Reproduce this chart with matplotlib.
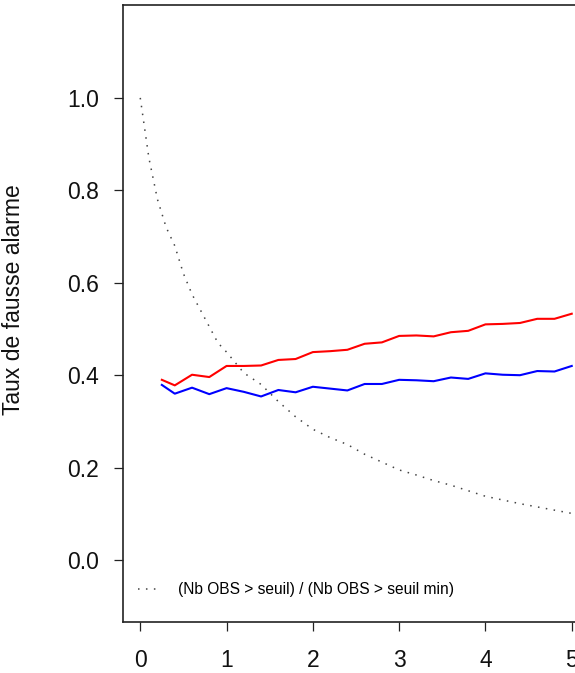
import matplotlib
matplotlib.use('Agg')
import matplotlib.pyplot as plt

plt.rcParams['font.family'] = ['Liberation Sans', 'DejaVu Sans']

# Thresholds and false alarm rates
seuil = [0.25, 0.4, 0.6, 0.8, 1.0, 1.2, 1.4, 1.6, 1.8, 2.0, 2.2, 2.4, 2.6,
         2.8, 3.0, 3.2, 3.4, 3.6, 3.8, 4.0, 4.2, 4.4, 4.6, 4.8, 5.0]
taux_rouge = [0.390, 0.378, 0.401, 0.396, 0.420, 0.420, 0.421, 0.433, 0.435,
              0.450, 0.452, 0.455, 0.468, 0.471, 0.485, 0.486, 0.484, 0.493,
              0.496, 0.510, 0.511, 0.513, 0.522, 0.522, 0.533]
taux_bleu = [0.379, 0.360, 0.373, 0.359, 0.372, 0.364, 0.354, 0.368, 0.363,
             0.375, 0.371, 0.367, 0.381, 0.381, 0.390, 0.389, 0.387, 0.395,
             0.392, 0.404, 0.401, 0.400, 0.409, 0.408, 0.420]

# Ratio (Nb OBS > seuil) / (Nb OBS > seuil min)
seuil_obs = [0.0, 0.1, 0.2, 0.3, 0.4, 0.5, 0.6, 0.7, 0.8, 0.9, 1.0, 1.2, 1.4,
             1.6, 1.8, 2.0, 2.2, 2.4, 2.6, 2.8, 3.0, 3.2, 3.4, 3.6, 3.8, 4.0,
             4.2, 4.4, 4.6, 4.8, 5.0]
ratio_obs = [1.00, 0.87, 0.78, 0.72, 0.68, 0.62, 0.575, 0.54, 0.505, 0.47,
             0.45, 0.405, 0.38, 0.343, 0.31, 0.283, 0.265, 0.25, 0.229, 0.212,
             0.195, 0.184, 0.172, 0.162, 0.150, 0.138, 0.130, 0.122, 0.115,
             0.108, 0.101]

xticks = [0, 1, 2, 3, 4, 5]
yticks = [0.0, 0.2, 0.4, 0.6, 0.8, 1.0]

fig = plt.figure(figsize=(5.75, 6.73), dpi=100)
ax = fig.add_axes([123 / 575, 51 / 673, 466 / 575, 617 / 673])

ax.plot(seuil_obs, ratio_obs, color='#444444', linewidth=1.1,
        linestyle=(0, (1, 4.2)), label='(Nb OBS > seuil) / (Nb OBS > seuil min)')
ax.plot(seuil, taux_rouge, color='#ff0000', linewidth=1.5)
ax.plot(seuil, taux_bleu, color='#0000ff', linewidth=1.5)

ax.set_xlim(-0.2, 5.2)
ax.set_ylim(-0.134, 1.201)
ax.set_xticks(xticks)
ax.set_xticklabels([str(v) for v in xticks])
ax.set_yticks(yticks)
ax.set_yticklabels(['%.1f' % v for v in yticks])

for s in ax.spines.values():
    s.set_linewidth(1.2)
    s.set_color('#222222')

ax.tick_params(axis='both', labelsize=16.5, length=6.5, width=0.9,
               color='#222222', labelcolor='#111111')
ax.tick_params(axis='x', pad=13)
ax.tick_params(axis='y', pad=11)

ax.set_ylabel('Taux de fausse alarme', fontsize=16.5, color='#111111')
ax.yaxis.set_label_coords(-0.21, 0.522)

ax.legend(loc='center left', bbox_to_anchor=(0.032, 0.052), frameon=False,
          fontsize=11.2, handlelength=1.4, handletextpad=1.2,
          borderpad=0, borderaxespad=0)

fig.savefig('out.png', dpi=100)
